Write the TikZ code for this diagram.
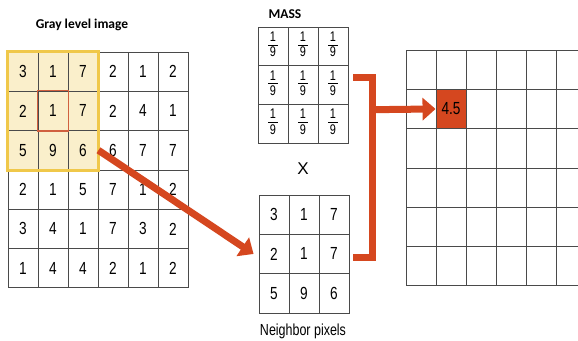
\documentclass[tikz,border=0pt]{standalone}
\usepackage{fontspec}
\setmainfont{Liberation Sans}
\newfontfamily\narrowfont[FakeStretch=0.78]{Liberation Sans}
\newfontfamily\titlefont{Carlito}
\usetikzlibrary{arrows.meta,positioning,backgrounds}

\definecolor{arrowred}{HTML}{D5471F}
\definecolor{gridgray}{HTML}{4A4A4A}
\definecolor{hlfill}{HTML}{FAEFCB}
\definecolor{hlborder}{HTML}{F0C84A}
\definecolor{centerred}{HTML}{D0603F}

\newcommand{\ninth}{{\narrowfont\fontsize{14}{14}\selectfont
  \begin{tabular}{@{}c@{}}\makebox[10pt]{1}\\[-1pt]\hline\noalign{\vskip2pt}\makebox[10pt]{9}\end{tabular}}}

\begin{document}
\begin{tikzpicture}[x=1pt,y=-1pt,
                    cell/.style={draw=gridgray,line width=0.9pt,minimum width=30pt,
                                 minimum height=39.33pt,inner sep=0pt,
                                 font=\narrowfont\fontsize{17.5}{17.5}\selectfont},
                    title/.style={font=\titlefont\bfseries\fontsize{13.5}{13.5}\selectfont},
                    bigarrow/.style={-{Triangle[length=13pt,width=22pt]},line width=7pt,
                                     arrowred},
                    bracket/.style={line width=7pt,arrowred,line join=miter}]
	\useasboundingbox (0,0) rectangle (578,340);
	\clip (0,0) rectangle (578,340);

	% gray level image
	\node[title]	(gtitle)	at (82,25)	{Gray level image};
	\foreach \row [count=\r] in {{3,1,7,2,1,2},{2,1,7,2,4,1},{5,9,6,6,7,7},
	                             {2,1,5,7,1,2},{3,4,1,7,3,2},{1,4,4,2,1,2}}
		\foreach \v [count=\c] in \row
			\node[cell]	(g-\r-\c)	at ({30*\c-7},{39.33*\r+32.3})	{\v};
	\begin{scope}[on background layer]
		\fill[hlfill] (g-1-1.north west) rectangle (g-3-3.south east);
	\end{scope}
	\draw[centerred,line width=1.2pt] (g-2-2.north west) rectangle (g-2-2.south east);
	\draw[hlborder,line width=3pt] (g-1-1.north west) rectangle (g-3-3.south east);

	% mass
	\node[title]	(mtitle)	at (285,14)	{MASS};
	\foreach \r in {1,2,3}
		\foreach \c in {1,2,3}
			\node[cell,minimum height=38.7pt]	(m-\r-\c)	at ({30*\c+243},{38.7*\r+7.6})	{\ninth};

	\node[font=\fontsize{17}{17}\selectfont]	(times)	at (303,169)	{X};

	% neighbor pixels
	\foreach \row [count=\r] in {{3,1,7},{2,1,7},{5,9,6}}
		\foreach \v [count=\c] in \row
			\node[cell]	(n-\r-\c)	at ({30*\c+244},{39.33*\r+175.3})	{\v};
	\node[font=\narrowfont\fontsize{16}{16}\selectfont]	(ntitle)	at (303,331)	{Neighbor pixels};

	% result
	\foreach \r in {1,...,6}
		\foreach \c in {1,...,7}
			\node[cell]	(r-\r-\c)	at ({30*\c+391},{39.33*\r+30.3})	{};
	\node[cell,fill=arrowred]	(res)	at (r-2-2)	{4.5};

	% connectors
	\coordinate	(btop)	at (353,77);
	\coordinate	(bbot)	at (353,257);
	\coordinate	(bmid)	at (372,109.7);
	\draw[bigarrow]	(g-3-3.east) -- ([xshift=-5pt]n-2-1.west);
	\draw[bracket]	(btop) -| (bmid |- bbot) -- (bbot);
	\draw[bigarrow]	(bmid) -- (res.west);
\end{tikzpicture}
\end{document}
